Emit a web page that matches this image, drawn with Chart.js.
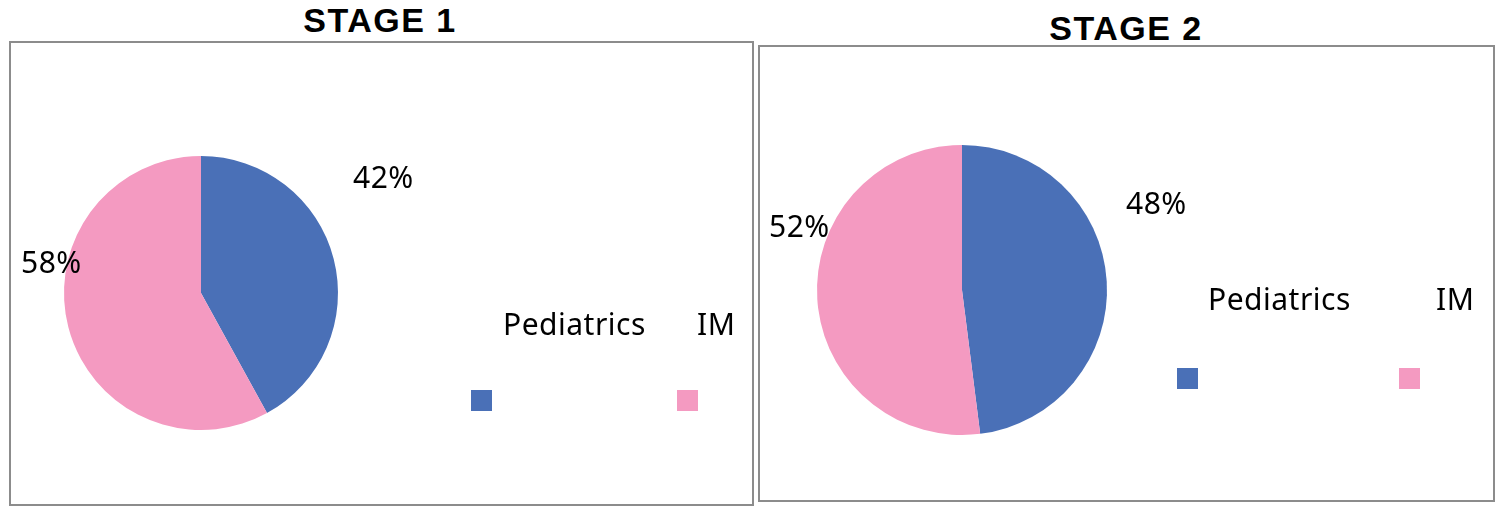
<!DOCTYPE html>
<html>
<head>
<meta charset="utf-8">
<script src="https://cdn.jsdelivr.net/npm/chart.js@4/dist/chart.umd.min.js"></script>
<style>
  body { margin: 0; width: 1500px; height: 510px; background: #fff; position: relative; font-family: "Noto Sans", "Liberation Sans", sans-serif; overflow: hidden; }
  .box { position: absolute; border: 2px solid #8c8c8c; box-sizing: border-box; }
  .box canvas { position: absolute; left: 0; top: 0; }
  .title { position: absolute; font-family: "Liberation Sans", Arial, sans-serif; font-weight: bold; font-size: 34px; letter-spacing: 1.5px; color: #000; transform: translateX(-50%); }
  .txt { position: absolute; font-size: 30px; letter-spacing: 0.5px; color: #000; line-height: 1; white-space: nowrap; }
  .sq { position: absolute; width: 21px; height: 21px; }
</style>
</head>
<body>
<div class="title" style="left:380px;top:1px">STAGE 1</div>
<div class="title" style="left:1126px;top:9px">STAGE 2</div>
<div class="box" id="box1" style="left:9px;top:41px;width:745px;height:465px"><canvas id="c1"></canvas></div>
<div class="box" id="box2" style="left:758px;top:45px;width:737px;height:457px"><canvas id="c2"></canvas></div>
<script>
let categories = ['Pediatrics', 'IM'];
let stage1Values = [42, 58];
let stage2Values = [48, 52];
let colors = ['#4a70b7', '#f49ac1'];

makePie = (id, values, pad) => {
  let canvas = document.getElementById(id);
  let box = canvas.parentElement;
  canvas.width = box.clientWidth;
  canvas.height = box.clientHeight;
  canvas.style.width = box.clientWidth + 'px';
  canvas.style.height = box.clientHeight + 'px';
  return new Chart(canvas.getContext('2d'), {
    type: 'pie',
    data: {
      labels: categories,
      datasets: [{ data: values, backgroundColor: colors, borderWidth: 0 }]
    },
    options: {
      responsive: false,
      animation: false,
      layout: { padding: pad },
      plugins: { legend: { display: false }, tooltip: { enabled: false } }
    }
  });
}

addText = (text, x, y) => {
  let d = document.createElement('div');
  d.className = 'txt';
  d.textContent = text;
  d.style.left = x + 'px';
  d.style.top = y + 'px';
  document.body.appendChild(d);
}

addSquare = (color, x, y) => {
  let d = document.createElement('div');
  d.className = 'sq';
  d.style.background = color;
  d.style.left = x + 'px';
  d.style.top = y + 'px';
  document.body.appendChild(d);
}

makePie('c1', stage1Values, { left: 53, right: 414, top: 113, bottom: 74 });
makePie('c2', stage2Values, { left: 57, right: 386, top: 98, bottom: 65 });

// percentage labels
addText(stage1Values[0] + '%', 353, 162);
addText(stage1Values[1] + '%', 21, 247);
addText(stage2Values[0] + '%', 1126, 188);
addText(stage2Values[1] + '%', 769, 211);

// legends
addText(categories[0], 503, 309);
addText(categories[1], 697, 309);
addSquare(colors[0], 471, 390);
addSquare(colors[1], 677, 390);
addText(categories[0], 1208, 284);
addText(categories[1], 1436, 284);
addSquare(colors[0], 1177, 368);
addSquare(colors[1], 1399, 368);
</script>
</body>
</html>
